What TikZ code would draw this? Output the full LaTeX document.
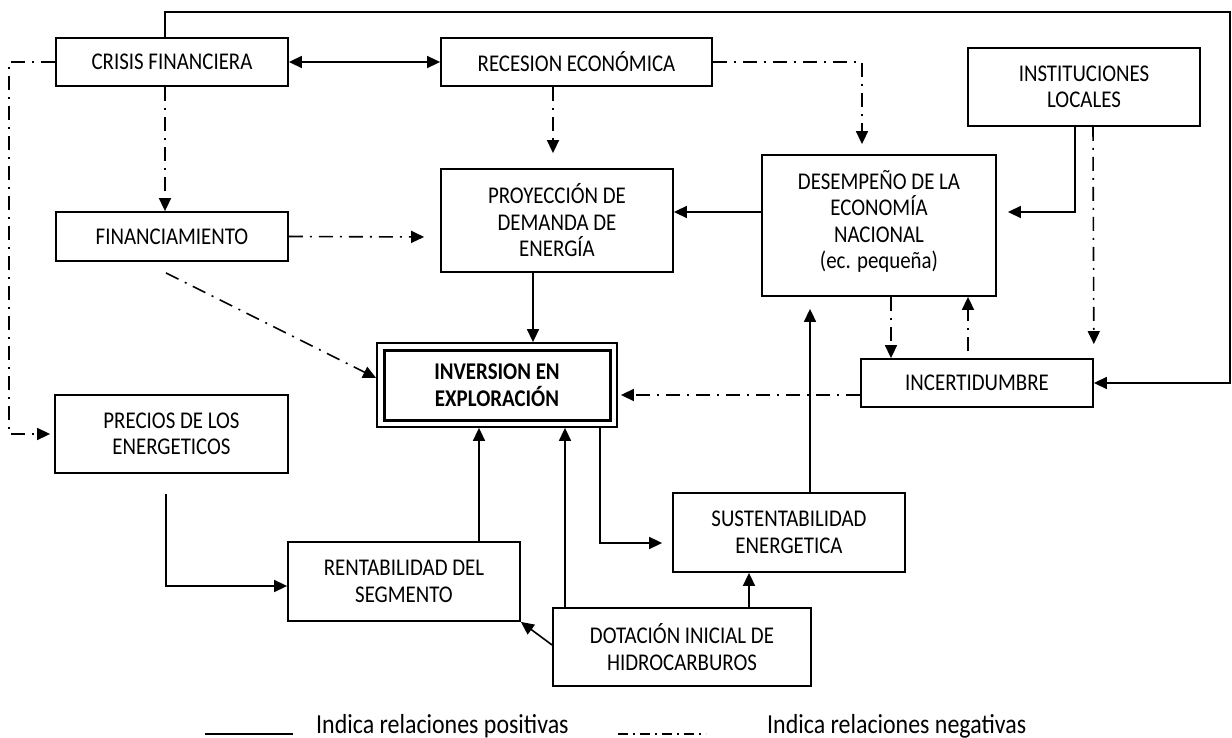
\documentclass[tikz,border=0pt]{standalone}
\usepackage{fontspec}
\setmainfont{Carlito}[FakeStretch=0.87]
\usetikzlibrary{arrows.meta}

\begin{document}
\begin{tikzpicture}[x=1pt, y=-1pt,
		>={Triangle[length=13pt, width=12pt]},
		box/.style={rectangle, draw, line width=1.8pt, inner sep=0pt, align=center, font=\fontsize{24}{26.5}\selectfont},
		posrel/.style={line width=1.6pt},
		negrel/.style={line width=1.6pt, dash pattern=on 14pt off 7pt on 2pt off 7pt},
		legend/.style={anchor=base west, inner sep=0pt, font=\fontsize{27.5}{30}\selectfont}]
		\useasboundingbox (0, 0) rectangle (1232, 738);
		% boxes
		\node(CRISIS) at (172, 62)[box, minimum width=232pt, minimum height=48pt]{CRISIS FINANCIERA};
		\node(RECES) at (576.5, 62)[box, minimum width=271pt, minimum height=48pt]{RECESION ECONÓMICA};
		\node(INST) at (1084, 87)[box, minimum width=232pt, minimum height=78pt]{INSTITUCIONES\\LOCALES};
		\node(DESEMP) at (879, 225.5)[box, minimum width=234pt, minimum height=141pt]{DESEMPEÑO DE LA\\ECONOMÍA\\NACIONAL\\(ec. pequeña)\\[-14pt]};
		\node(PROYEC) at (557, 220.5)[box, minimum width=232pt, minimum height=103pt]{PROYECCIÓN DE\\DEMANDA DE\\ENERGÍA};
		\node(FINAN) at (172, 236.5)[box, minimum width=232pt, minimum height=49pt]{FINANCIAMIENTO};
		\node(INV) at (497, 385)[box, minimum width=240pt, minimum height=84pt]{};
		\node(INVIN) at (497, 385)[box, line width=3pt, minimum width=226pt, minimum height=70pt]{\bfseries INVERSION EN\\\bfseries EXPLORACIÓN};
		\node(INCERT) at (977, 383)[box, minimum width=232pt, minimum height=48pt]{INCERTIDUMBRE};
		\node(PRECIOS) at (171.5, 434)[box, minimum width=233pt, minimum height=78pt]{PRECIOS DE LOS\\ENERGETICOS};
		\node(RENTAB) at (404, 581.5)[box, minimum width=232pt, minimum height=79pt]{RENTABILIDAD DEL\\SEGMENTO};
		\node(SUSTENT) at (789, 532.5)[box, minimum width=232pt, minimum height=79pt]{SUSTENTABILIDAD\\ENERGETICA};
		\node(DOTAC) at (682, 647)[box, minimum width=258pt, minimum height=78pt]{DOTACIÓN INICIAL DE\\HIDROCARBUROS};
		% positive relations
		\draw[posrel, <->] (CRISIS) -- (RECES);
		\draw[posrel, ->] ([xshift=-7pt]CRISIS.north) |- (1230, 12) |- (INCERT.east);
		\draw[posrel, ->, shorten >=11pt] ([xshift=-9pt]INST.south) |- ([yshift=13.5pt]DESEMP.east);
		\draw[posrel, ->] ([yshift=13.5pt]DESEMP.west) -- ([yshift=8.5pt]PROYEC.east);
		\draw[posrel, ->] ([xshift=-24pt]PROYEC.south) -- ([xshift=36pt]INV.north);
		\draw[posrel, ->, shorten >=12pt] ([xshift=21pt]SUSTENT.north) -- ([xshift=-69pt]DESEMP.south);
		\draw[posrel, ->, shorten >=10pt] ([xshift=103pt]INV.south) |- ([yshift=-10.5pt]SUSTENT.west);
		\draw[posrel, ->] ([xshift=-5.5pt, yshift=-20pt]PRECIOS.south) |- ([yshift=-4.5pt]RENTAB.west);
		\draw[posrel, ->] ([xshift=75pt]RENTAB.north) -- ([xshift=-18pt]INV.south);
		\draw[posrel, ->] ([xshift=-117pt]DOTAC.north) -- ([xshift=68pt]INV.south);
		\draw[posrel, ->] ([yshift=2pt]DOTAC.west) -- (RENTAB.south east);
		\draw[posrel, ->] ([xshift=67pt]DOTAC.north) -- ([xshift=-40pt]SUSTENT.south);
		% negative relations
		\draw[negrel, ->, shorten >=4pt] (CRISIS.west) -- +(-46, 0) |- (PRECIOS.west);
		\draw[negrel, ->] ([xshift=-7pt]CRISIS.south) -- ([xshift=-7pt]FINAN.north);
		\draw[negrel, ->, shorten >=15pt] ([xshift=-23.5pt]RECES.south) -- ([xshift=-4pt]PROYEC.north);
		\draw[negrel, ->, shorten >=10pt] (RECES.east) -| ([xshift=-17pt]DESEMP.north);
		\draw[negrel, ->, shorten >=14pt] ([xshift=9pt]INST.south) -- (INCERT.north east);
		\draw[negrel, ->, shorten >=16pt] (FINAN.east) -- ([yshift=-16.5pt]PROYEC.west);
		\draw[negrel, ->] ([xshift=-6pt, yshift=-11pt]FINAN.south) -- ([yshift=7pt]INV.west);
		\draw[negrel, ->] ([xshift=12pt]DESEMP.south) -- ([xshift=-86pt]INCERT.north);
		\draw[negrel, ->] ([xshift=-9pt, yshift=7pt]INCERT.north) -- ([xshift=89pt]DESEMP.south);
		\draw[negrel, ->, shorten >=3pt] ([yshift=-12pt]INCERT.west) -- ([yshift=-10pt]INV.east);
		% legend
		\node(LEGPOS) at (316, 733)[legend]{Indica relaciones positivas};
		\node(LEGNEG) at (767, 733)[legend]{Indica relaciones negativas};
		\draw[line width=1.6pt] (205, 734) -- (293, 734);
		\draw[line width=1.6pt, dash pattern=on 10pt off 5pt on 2pt off 5pt] (618, 734) -- (706, 734);
	\end{tikzpicture}
\end{document}
